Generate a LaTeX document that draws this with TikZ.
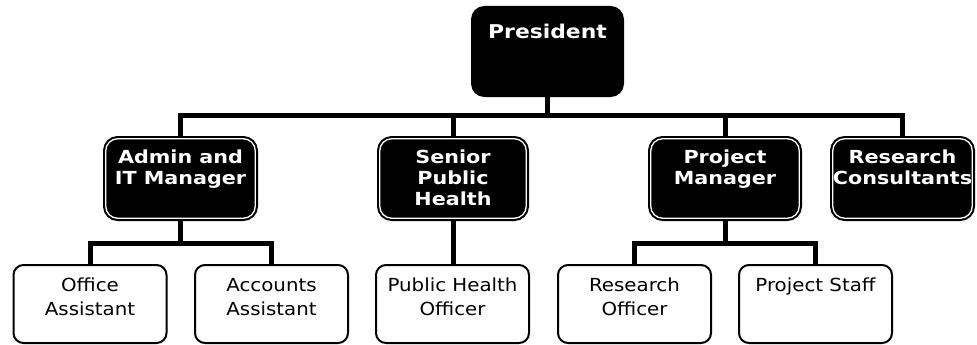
\documentclass[tikz,border=0pt]{standalone}
\usepackage{fontspec}
\setmainfont{DejaVu Sans}[FakeStretch=1.1]
\newfontfamily\headfont{DejaVu Sans}[FakeStretch=1.15]
\usetikzlibrary{calc}
\begin{document}
\begin{tikzpicture}[x=1pt,y=-1pt,
  prbox/.style={draw=black, fill=black, line width=1pt, rounded corners=13pt, minimum width=152pt, minimum height=90pt, inner sep=0pt},
  ltwobox/.style={fill=black, draw=white, line width=1.3pt, rounded corners=12pt,
     preaction={draw=black, line width=5.5pt}, minimum height=79.5pt, inner sep=0pt},
  lthreebox/.style={fill=white, draw=black, line width=2pt, rounded corners=10pt, minimum width=153pt, minimum height=78pt, inner sep=0pt},
  prtext/.style={anchor=north, inner sep=0pt, text=white, font=\headfont\bfseries\fontsize{19}{22}\selectfont},
  ltwotext/.style={anchor=north, inner sep=0pt, text=white, align=center, font=\headfont\bfseries\fontsize{18}{21}\selectfont},
  lthreetext/.style={anchor=north, inner sep=0pt, text=black, align=center, font=\fontsize{18}{24}\selectfont},
  conn/.style={draw=black, line width=5pt}
]
\useasboundingbox (0,0) rectangle (977,345);

% President
\node[prbox] (pres) at (547.5,51.5) {};
\node[prtext] (prest) at (547.5,23.5) {President};

% Level 2
\node[ltwobox, minimum width=149.5pt] (admin) at (180.5,178.5) {};
\node[ltwotext] (admint) at (180.5,150) {Admin and\\IT Manager};
\node[ltwobox, minimum width=146.5pt] (senior) at (453,178.5) {};
\node[ltwotext] (seniort) at (453,150) {Senior\\Public\\Health};
\node[ltwobox, minimum width=148.5pt] (pm) at (725,178.5) {};
\node[ltwotext] (pmt) at (725,150) {Project\\Manager};
\node[ltwobox, minimum width=139.5pt] (rc) at (902.5,178.5) {};
\node[ltwotext] (rct) at (902.5,150) {Research\\Consultants};

% Level 3
\node[lthreebox] (office) at (90,304) {};
\node[lthreetext] (officet) at (90,278) {Office\\Assistant};
\node[lthreebox] (acc) at (271.5,304) {};
\node[lthreetext] (acct) at (271.5,278) {Accounts\\Assistant};
\node[lthreebox] (pho) at (452.5,304) {};
\node[lthreetext] (phot) at (452.5,278) {Public Health\\Officer};
\node[lthreebox] (ro) at (634.5,304) {};
\node[lthreetext] (rot) at (634.5,278) {Research\\Officer};
\node[lthreebox] (staff) at (815.5,304) {};
\node[lthreetext] (stafft) at (815.5,278) {Project Staff};

% Connectors
\coordinate (bus1) at (547.5,115);
\draw[conn] (pres.south) -- (bus1);
\draw[conn] (admin.north) |- (bus1) -| (rc.north);
\draw[conn] (senior.north) -- (senior.north |- bus1);
\draw[conn] (pm.north) -- (pm.north |- bus1);

\coordinate (bus2) at (180.5,243);
\draw[conn] (admin.south) -- (bus2);
\draw[conn] (office.north) |- (bus2) -| (acc.north);

\draw[conn] (senior.south) -- (senior.south |- pho.north);

\coordinate (bus3) at (725,243);
\draw[conn] (pm.south) -- (bus3);
\draw[conn] (ro.north) |- (bus3) -| (staff.north);
\end{tikzpicture}
\end{document}
